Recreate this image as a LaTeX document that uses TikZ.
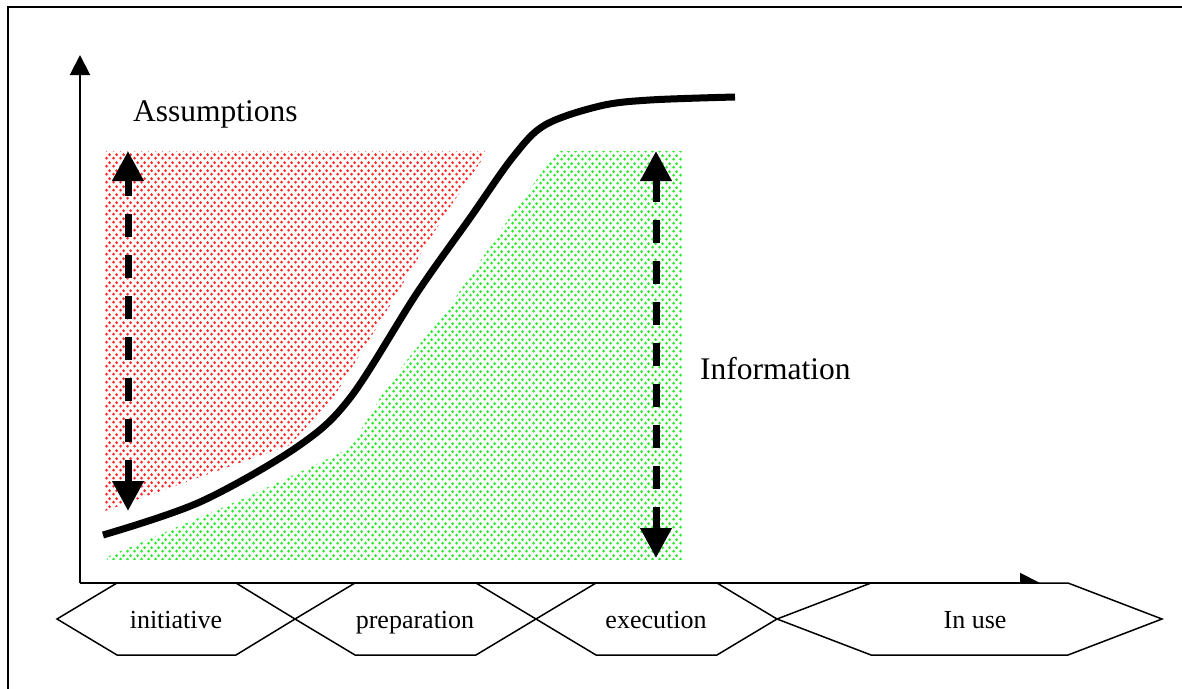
\documentclass[tikz,border=0pt]{standalone}
\usepackage{fontspec}
\setmainfont{Liberation Serif}
\usetikzlibrary{arrows.meta,patterns}
\pgfdeclarepatternformonly{stagdots}{\pgfqpoint{0pt}{0pt}}{\pgfqpoint{7pt}{8pt}}{\pgfqpoint{7pt}{8pt}}{%
  \pgfpathcircle{\pgfqpoint{1.75pt}{2pt}}{1.7pt}%
  \pgfpathcircle{\pgfqpoint{5.25pt}{6pt}}{1.7pt}%
  \pgfusepath{fill}}
\definecolor{dotred}{RGB}{255,40,40}
\definecolor{dotgreen}{RGB}{40,235,40}
\tikzset{
  frameline/.style={line width=2pt},
  axisline/.style={line width=2pt,-{Triangle[width=20pt,length=20pt]}},
  phase/.style={draw=black,line width=1.5pt,fill=white,line join=miter},
  phasetext/.style={font=\fontsize{26}{30}\selectfont,anchor=base,inner sep=0pt},
  lbl/.style={font=\fontsize{31.5}{36}\selectfont,anchor=base west,inner sep=0pt},
  rangearrow/.style={line width=7pt,dash pattern=on 23pt off 18pt,
    {Triangle[width=30pt,length=30pt]}-{Triangle[width=30pt,length=30pt]}},
  curveline/.style={line width=7pt,line cap=butt},
}
\begin{document}
\begin{tikzpicture}[x=1pt,y=-1pt]
\useasboundingbox (0,0) rectangle (1182,688);
% frame
\draw[frameline] (8,700) -- (8,7) -- (1190,7);
% axes
\coordinate (origin) at (80,583);
\coordinate (ytip) at (80,55);
\coordinate (xtip) at (1040,583);
\draw[axisline] (origin) -- (ytip);
\draw[axisline] (origin) -- (xtip);
% shaded regions
\fill[pattern=stagdots,pattern color=dotred]
  (105,151) -- (488,151) -- (450,207) -- (423,250) -- (377,327) -- (335,395)
  -- (290,445) -- (200,477) -- (105,511) -- cycle;
\fill[pattern=stagdots,pattern color=dotgreen]
  (107,560) -- (107,557) -- (163,533) -- (247,497) -- (340,453) -- (352,445)
  -- (383,393) -- (407,360) -- (447,310) -- (483,257) -- (503,227) -- (557,151)
  -- (682,151) -- (682,560) -- cycle;
% curve
\draw[curveline] plot[smooth,tension=0.55] coordinates {
  (103,535) (200,502) (297,447) (350,398) (417,293) (470,218) (513,157)
  (545,125) (600,106) (650,100) (735,97)};
% ranges
\coordinate (at) at (128,151);
\coordinate (ab) at (128,511);
\coordinate (it) at (656,151);
\coordinate (ib) at (656,558);
\draw[rangearrow] (ab) -- (at);
\draw[rangearrow] (ib) -- (it);
% labels
\node[lbl] (assump) at (133,121) {Assumptions};
\node[lbl] (info) at (700,379) {Information};
% phases
\draw[phase] (57,619) -- (117,583) -- (236,583) -- (295,619) -- (236,655) -- (117,655) -- cycle;
\draw[phase] (295,619) -- (355,583) -- (476,583) -- (536,619) -- (476,655) -- (355,655) -- cycle;
\draw[phase] (536,619) -- (596,583) -- (717,583) -- (777,619) -- (717,655) -- (596,655) -- cycle;
\draw[phase] (777,619) -- (871,583) -- (1068,583) -- (1162,619) -- (1068,655) -- (871,655) -- cycle;
\node[phasetext] (p1) at (176,628) {initiative};
\node[phasetext] (p2) at (415,628) {preparation};
\node[phasetext] (p3) at (656,628) {execution};
\node[phasetext] (p4) at (975,628) {In use};
\end{tikzpicture}
\end{document}
